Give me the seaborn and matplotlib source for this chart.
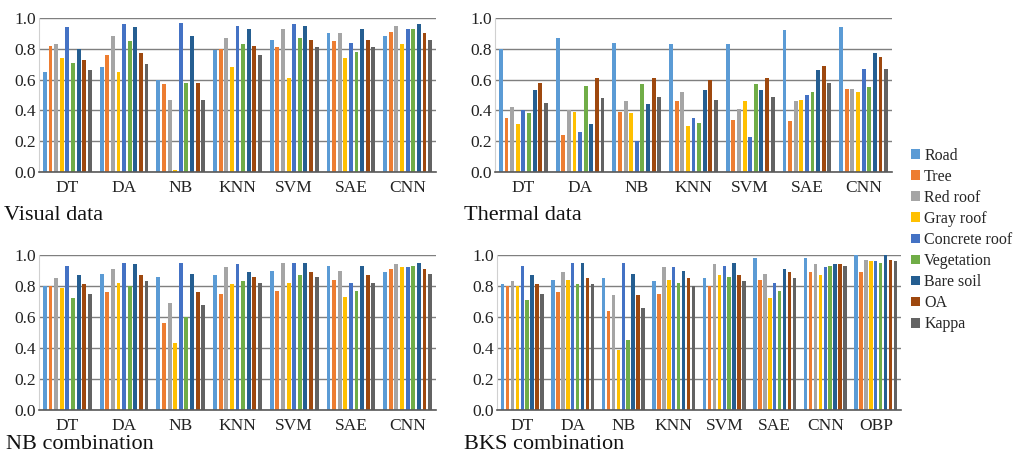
import pandas as pd
import matplotlib.pyplot as plt
import seaborn as sns
from matplotlib.patches import Patch

classes = ["Road", "Tree", "Red roof", "Gray roof", "Concrete roof",
           "Vegetation", "Bare soil", "OA", "Kappa"]
colors = ["#5B9BD5", "#ED7D31", "#A5A5A5", "#FFC000", "#4472C4",
          "#70AD47", "#255E91", "#9E480E", "#636363"]

methods7 = ["DT", "DA", "NB", "KNN", "SVM", "SAE", "CNN"]
methods8 = methods7 + ["OBP"]

# one row per method, values in class order
visual = [
    [0.65, 0.82, 0.83, 0.74, 0.94, 0.71, 0.80, 0.73, 0.66],
    [0.68, 0.76, 0.88, 0.65, 0.96, 0.85, 0.94, 0.77, 0.70],
    [0.60, 0.57, 0.47, 0.01, 0.97, 0.58, 0.88, 0.58, 0.47],
    [0.79, 0.80, 0.87, 0.68, 0.95, 0.83, 0.93, 0.82, 0.76],
    [0.86, 0.81, 0.93, 0.61, 0.96, 0.87, 0.95, 0.86, 0.81],
    [0.90, 0.85, 0.90, 0.74, 0.84, 0.78, 0.93, 0.86, 0.81],
    [0.88, 0.91, 0.95, 0.83, 0.93, 0.93, 0.96, 0.90, 0.86],
]
thermal = [
    [0.80, 0.35, 0.42, 0.31, 0.40, 0.38, 0.53, 0.58, 0.45],
    [0.87, 0.24, 0.40, 0.39, 0.26, 0.56, 0.31, 0.61, 0.48],
    [0.84, 0.39, 0.46, 0.38, 0.20, 0.57, 0.44, 0.61, 0.49],
    [0.83, 0.46, 0.52, 0.30, 0.35, 0.32, 0.53, 0.60, 0.47],
    [0.83, 0.34, 0.41, 0.46, 0.23, 0.57, 0.53, 0.61, 0.49],
    [0.92, 0.33, 0.46, 0.47, 0.50, 0.52, 0.66, 0.69, 0.58],
    [0.94, 0.54, 0.54, 0.52, 0.67, 0.55, 0.77, 0.75, 0.67],
]
nb_comb = [
    [0.80, 0.80, 0.85, 0.79, 0.93, 0.72, 0.87, 0.81, 0.75],
    [0.88, 0.76, 0.91, 0.82, 0.95, 0.80, 0.94, 0.87, 0.83],
    [0.86, 0.56, 0.69, 0.43, 0.95, 0.60, 0.88, 0.76, 0.68],
    [0.87, 0.75, 0.92, 0.81, 0.94, 0.83, 0.89, 0.86, 0.82],
    [0.90, 0.77, 0.95, 0.82, 0.95, 0.87, 0.95, 0.89, 0.86],
    [0.93, 0.84, 0.90, 0.73, 0.82, 0.77, 0.93, 0.87, 0.82],
    [0.89, 0.91, 0.94, 0.92, 0.92, 0.93, 0.95, 0.91, 0.88],
]
bks_comb = [
    [0.81, 0.80, 0.83, 0.80, 0.93, 0.71, 0.87, 0.81, 0.75],
    [0.84, 0.76, 0.89, 0.84, 0.95, 0.81, 0.95, 0.85, 0.81],
    [0.85, 0.64, 0.74, 0.39, 0.95, 0.45, 0.88, 0.74, 0.66],
    [0.83, 0.75, 0.92, 0.84, 0.92, 0.82, 0.90, 0.85, 0.80],
    [0.85, 0.80, 0.94, 0.87, 0.93, 0.86, 0.95, 0.87, 0.83],
    [0.98, 0.84, 0.88, 0.72, 0.82, 0.77, 0.91, 0.89, 0.85],
    [0.98, 0.89, 0.94, 0.87, 0.92, 0.93, 0.94, 0.94, 0.93],
    [1.00, 0.89, 0.97, 0.96, 0.96, 0.95, 1.00, 0.97, 0.96],
]


def to_long(methods, rows):
    recs = []
    for m, vals in zip(methods, rows):
        for c, v in zip(classes, vals):
            recs.append({"method": m, "class": c, "value": v})
    return pd.DataFrame(recs)


sns.set_style("white")
plt.rcParams["font.family"] = ["Liberation Serif", "DejaVu Serif"]

W, H = 1021, 463
fig = plt.figure(figsize=(W / 100, H / 100), dpi=100)

# (left, top, right, bottom) in pixels
panels = [
    (visual, methods7, (39, 18, 436, 172), "Visual data", (4, 220)),
    (thermal, methods7, (495, 18, 892, 172), "Thermal data", (464, 220)),
    (nb_comb, methods7, (39, 255, 436, 410), "NB combination", (6, 449)),
    (bks_comb, methods8, (497, 255, 901, 410), "BKS combination", (464, 449)),
]

for rows, methods, (l, t, r, b), title, (tx, ty) in panels:
    ax = fig.add_axes([l / W, 1 - b / H, (r - l) / W, (b - t) / H])
    df = to_long(methods, rows)
    sns.barplot(data=df, x="method", y="value", hue="class", hue_order=classes,
                palette=colors, width=0.89, gap=0.3, linewidth=0, saturation=1,
                ax=ax, legend=False)
    ax.set_ylim(0, 1.0)
    ax.set_yticks([0, 0.2, 0.4, 0.6, 0.8, 1.0])
    ax.set_yticklabels(["0.0", "0.2", "0.4", "0.6", "0.8", "1.0"])
    ax.yaxis.grid(True, color="#7f7f7f", linewidth=1.0)
    ax.set_axisbelow(True)
    ax.set_xlabel("")
    ax.set_ylabel("")
    ax.tick_params(axis="both", length=0, labelsize=12.5, colors="#222222")
    ax.tick_params(axis="x", pad=6)
    ax.tick_params(axis="y", pad=2)
    for s in ["top", "right"]:
        ax.spines[s].set_visible(False)
    ax.spines["left"].set_color("#d0d0d0")
    ax.spines["bottom"].set_color("#595959")
    ax.spines["bottom"].set_linewidth(1.2)
    fig.text(tx / W, 1 - ty / H, title, fontsize=16, va="baseline", ha="left",
             color="#111111")

handles = [Patch(facecolor=c, edgecolor="none", label=k) for c, k in zip(colors, classes)]
fig.legend(handles=handles, loc="center left", bbox_to_anchor=(905 / W, 1 - 240 / H),
           frameon=False, fontsize=11.5, handlelength=0.55, handleheight=0.55,
           handletextpad=0.25, labelspacing=0.32, borderaxespad=0)

plt.savefig("out.png", dpi=100)
